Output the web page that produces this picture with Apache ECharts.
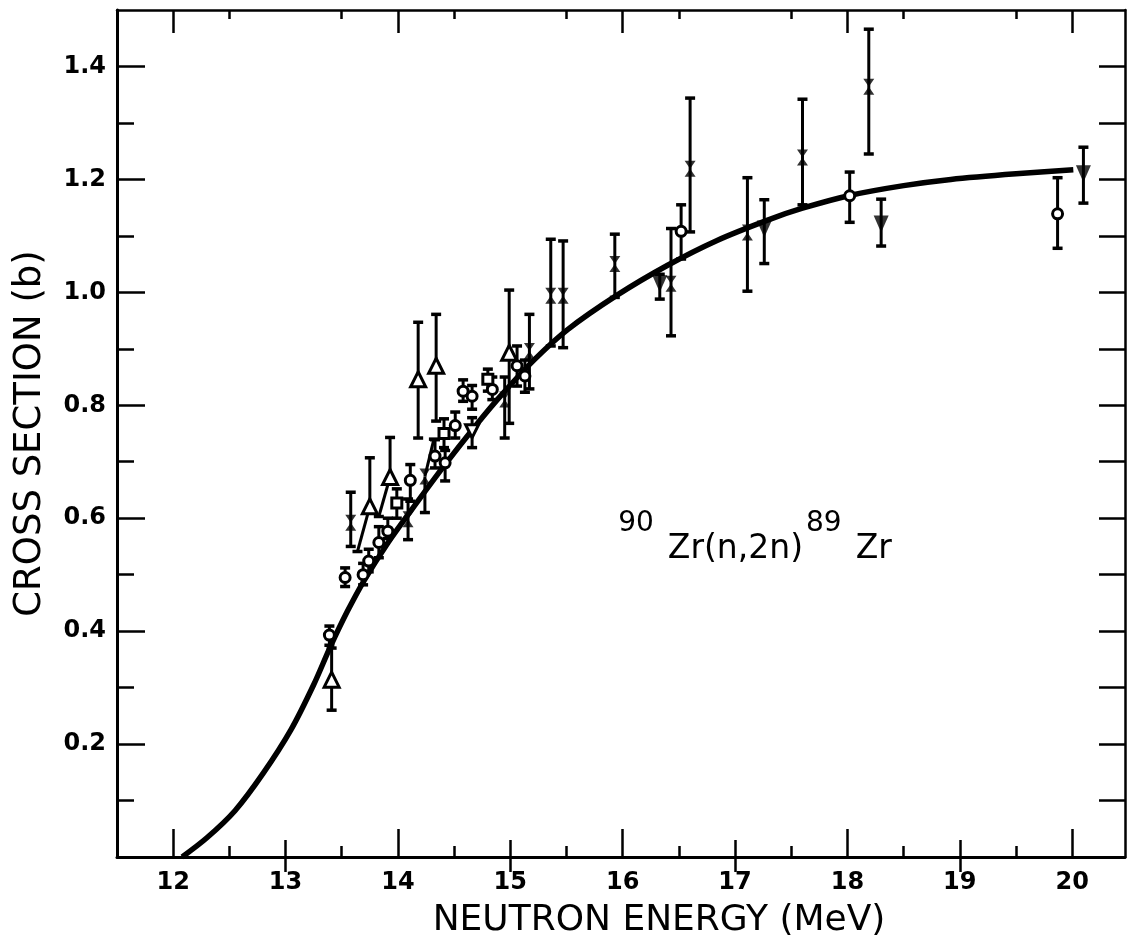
<!DOCTYPE html>
<html><head><meta charset="utf-8">
<script src="https://cdn.jsdelivr.net/npm/echarts@6/dist/echarts.min.js"></script>
<style>html,body{margin:0;padding:0;background:#fff}#c{width:1127px;height:942px}</style>
</head><body><div id="c"></div>
<script>
// ---- data ----
const xTickLabels = [12, 13, 14, 15, 16, 17, 18, 19, 20];
const yTickLabels = [0.2, 0.4, 0.6, 0.8, 1.0, 1.2, 1.4];
const xTicksEven = [12, 14, 16, 18, 20];
const xTicksOdd = [13, 15, 17, 19];
const xTicksHalf = [12.5, 13.5, 14.5, 15.5, 16.5, 17.5, 18.5, 19.5];
const yTicksMajor = [0.2, 0.4, 0.6, 0.8, 1.0, 1.2, 1.4];
const yTicksMinor = [0.1, 0.3, 0.5, 0.7, 0.9, 1.1, 1.3];
const yTicksRight = [0.1, 0.2, 0.3, 0.4, 0.5, 0.6, 0.7, 0.8, 0.9, 1.0, 1.1, 1.2, 1.3, 1.4];

// fitted curve (MeV, barns)
const curveE = [12.08, 12.30, 12.55, 12.80, 13.05, 13.25, 13.40, 13.55, 13.70, 13.90, 14.10, 14.40, 14.70, 14.92, 15.21, 15.51, 15.95, 16.40, 16.84, 17.29, 17.60, 18.03, 18.50, 18.92, 19.50, 20.01];
const curveS = [0.000, 0.034, 0.082, 0.148, 0.226, 0.305, 0.373, 0.435, 0.490, 0.553, 0.609, 0.690, 0.766, 0.818, 0.880, 0.934, 0.995, 1.048, 1.092, 1.128, 1.149, 1.172, 1.189, 1.200, 1.210, 1.217];

// measurements: [energy, sigma, lower, upper]
const openCircles = [
  [13.39, 0.393, 0.375, 0.409], [13.53, 0.495, 0.479, 0.512], [13.69, 0.500, 0.482, 0.520],
  [13.74, 0.524, 0.505, 0.545], [13.83, 0.557, 0.530, 0.585], [13.91, 0.577, 0.564, 0.600],
  [14.11, 0.667, 0.630, 0.695], [14.33, 0.710, 0.689, 0.739], [14.42, 0.698, 0.666, 0.720],
  [14.51, 0.764, 0.742, 0.788], [14.58, 0.825, 0.807, 0.845], [14.66, 0.816, 0.793, 0.835],
  [14.84, 0.828, 0.810, 0.850], [15.06, 0.870, 0.834, 0.905], [15.13, 0.852, 0.823, 0.880],
  [16.52, 1.108, 1.059, 1.155], [18.02, 1.171, 1.124, 1.213], [19.87, 1.139, 1.078, 1.203]
];
const openSquares = [
  [13.99, 0.627, 0.600, 0.652], [14.41, 0.750, 0.725, 0.776], [14.80, 0.846, 0.825, 0.864]
];
const openTriangles = [
  [13.41, 0.314, 0.260, 0.370], [13.75, 0.621, 0.621, 0.707], [13.93, 0.673, 0.673, 0.743],
  [14.18, 0.846, 0.742, 0.947], [14.34, 0.870, 0.772, 0.961], [14.99, 0.893, 0.768, 1.004]
];
const openDownTriangles = [
  [14.66, 0.754, 0.725, 0.778]
];
const filledDownTriangles = [
  [16.33, 1.015, 0.988, 1.032], [17.26, 1.112, 1.051, 1.164],
  [18.30, 1.121, 1.082, 1.165], [20.10, 1.210, 1.158, 1.257]
];
const crossMarks = [
  [13.58, 0.592, 0.550, 0.646], [14.09, 0.598, 0.562, 0.634], [14.24, 0.674, 0.610, 0.674],
  [14.95, 0.810, 0.742, 0.850], [15.17, 0.896, 0.829, 0.961], [15.36, 0.994, 0.905, 1.094],
  [15.47, 0.994, 0.902, 1.091], [15.93, 1.050, 0.991, 1.103], [16.43, 1.015, 0.923, 1.113],
  [16.60, 1.219, 1.107, 1.344], [17.11, 1.106, 1.002, 1.203], [17.60, 1.239, 1.155, 1.342],
  [18.19, 1.364, 1.245, 1.466]
];
// slanted error bars: [E, sigma, endE, endSigma]
const slantBars = [
  [13.75, 0.621, 13.64, 0.541], [13.93, 0.673, 13.83, 0.603], [14.24, 0.674, 14.32, 0.740]
];
const reactionLabel = '{s|90}{m|Zr(n,2n)}{s|89}{m|Zr}';
const labelAnchor = [15.96, 0.622];

// ---- chart ----
const chart = echarts.init(document.getElementById('c'), null, {renderer: 'canvas'});
const INK = '#000';
const numFont = {fontFamily: 'DejaVu Sans', fontWeight: 'bold', fontSize: 24, color: INK};
const titleFont = {fontFamily: 'DejaVu Sans', fontWeight: 'normal', fontSize: 36, color: INK};

function xAx(pos, ticks, len, extra) {
  return Object.assign({
    type: 'value', min: 11.5, max: 20.47, position: pos, gridIndex: 0,
    splitLine: {show: false},
    axisLine: {show: false},
    axisLabel: {show: false},
    axisTick: {show: true, inside: true, length: len, customValues: ticks, lineStyle: {color: INK, width: 2.5}}
  }, extra || {});
}
function yAx(pos, ticks, len, extra) {
  return Object.assign({
    type: 'value', min: 0, max: 1.5, position: pos, gridIndex: 0,
    splitLine: {show: false},
    axisLine: {show: false},
    axisLabel: {show: false},
    axisTick: {show: true, inside: true, length: len, customValues: ticks, lineStyle: {color: INK, width: 2.5}}
  }, extra || {});
}

const xAxes = [
  xAx('bottom', xTicksEven, 28, {
    axisLine: {show: true, onZero: false, lineStyle: {color: INK, width: 3}},
    axisLabel: Object.assign({show: true, customValues: xTickLabels, margin: 14}, numFont),
    name: 'NEUTRON ENERGY (MeV)', nameLocation: 'middle', nameGap: 46,
    nameTextStyle: Object.assign({padding: [0, 0, 0, 76]}, titleFont)
  }),
  xAx('bottom', xTicksOdd, 17),
  xAx('bottom', xTicksHalf, 11),
  xAx('top', xTicksEven, 23, {axisLine: {show: true, onZero: false, lineStyle: {color: INK, width: 2.5}}}),
  xAx('top', xTicksOdd, 15),
  xAx('top', xTicksHalf, 9)
];
const yAxes = [
  yAx('left', yTicksMajor, 28, {
    axisLine: {show: true, onZero: false, lineStyle: {color: INK, width: 3}},
    axisLabel: Object.assign({show: true, customValues: yTickLabels, margin: 11,
      formatter: v => Number(v).toFixed(1)}, numFont),
    name: 'CROSS SECTION (b)', nameLocation: 'middle', nameGap: 68, nameRotate: 90,
    nameTextStyle: Object.assign({}, titleFont, {fontSize: 37})
  }),
  yAx('left', yTicksMinor, 17),
  yAx('right', yTicksRight, 26, {axisLine: {show: true, onZero: false, lineStyle: {color: INK, width: 2.5}}})
];

function errItem(params, api) {
  const x = api.value(0), y = api.value(1), lo = api.value(2), hi = api.value(3);
  const t = api.coord([x, hi]), b = api.coord([x, lo]);
  const cw = 5;
  const ch = [{type: 'line', shape: {x1: t[0], y1: t[1], x2: b[0], y2: b[1]}, style: {stroke: INK, lineWidth: 3}}];
  if (hi > y) ch.push({type: 'line', shape: {x1: t[0] - cw, y1: t[1], x2: t[0] + cw, y2: t[1]}, style: {stroke: INK, lineWidth: 3.5}});
  if (lo < y) ch.push({type: 'line', shape: {x1: b[0] - cw, y1: b[1], x2: b[0] + cw, y2: b[1]}, style: {stroke: INK, lineWidth: 3.5}});
  return {type: 'group', children: ch};
}
function slantItem(params, api) {
  const a = api.coord([api.value(0), api.value(1)]), b = api.coord([api.value(2), api.value(3)]);
  return {type: 'group', children: [
    {type: 'line', shape: {x1: a[0], y1: a[1], x2: b[0], y2: b[1]}, style: {stroke: INK, lineWidth: 3}},
    {type: 'line', shape: {x1: b[0] - 5, y1: b[1], x2: b[0] + 5, y2: b[1]}, style: {stroke: INK, lineWidth: 3.5}}
  ]};
}

const allPoints = [].concat(openCircles, openSquares, openTriangles, openDownTriangles, filledDownTriangles, crossMarks);
const openStyle = {color: '#fff', borderColor: INK, borderWidth: 3, opacity: 1};
const hourglass = 'path://M0,0L10,0L0,14L10,14Z';

function sc(data, symbol, size, style, rotate) {
  return {type: 'scatter', data: data.map(d => [d[0], d[1]]), symbol: symbol, symbolSize: size,
    symbolRotate: rotate || 0, itemStyle: style, z: 5, silent: true, animation: false,
    xAxisIndex: 0, yAxisIndex: 0};
}

chart.setOption({
  animation: false,
  backgroundColor: '#fff',
  grid: {left: 117, right: 2, top: 10, bottom: 85, containLabel: false, outerBoundsMode: 'none'},
  xAxis: xAxes,
  yAxis: yAxes,
  series: [
    {type: 'line', data: curveE.map((e, i) => [e, curveS[i]]), smooth: 0.3, showSymbol: false,
      lineStyle: {color: INK, width: 5.5}, z: 2, silent: true, xAxisIndex: 0, yAxisIndex: 0},
    {type: 'custom', data: allPoints, renderItem: errItem, encode: {x: 0, y: [1, 2, 3]}, z: 3, silent: true,
      xAxisIndex: 0, yAxisIndex: 0},
    {type: 'custom', data: slantBars, renderItem: slantItem, encode: {x: [0, 2], y: [1, 3]}, z: 3, silent: true,
      xAxisIndex: 0, yAxisIndex: 0},
    sc(openCircles, 'circle', 10, openStyle),
    sc(openSquares, 'rect', 10, openStyle),
    sc(openTriangles, 'triangle', [15, 15], openStyle),
    sc(openDownTriangles, 'triangle', [13, 13], openStyle, 180),
    sc(filledDownTriangles, 'triangle', [15, 17], {color: INK}, 180),
    sc(crossMarks, hourglass, [11, 16], {color: INK})
  ]
});

const p = chart.convertToPixel({xAxisIndex: 0, yAxisIndex: 0}, labelAnchor);
chart.setOption({
  graphic: [{
    type: 'text', left: p[0], top: p[1], silent: true,
    style: {
      text: reactionLabel, fill: INK,
      rich: {
        s: {fontFamily: 'DejaVu Sans', fontSize: 28, lineHeight: 60, verticalAlign: 'top', padding: [4, 14, 0, 0], fill: INK},
        m: {fontFamily: 'DejaVu Sans', fontSize: 33, lineHeight: 60, verticalAlign: 'bottom', fill: INK, padding: [0, 3, 0, 0]}
      }
    }
  }]
});
</script>
</body></html>
